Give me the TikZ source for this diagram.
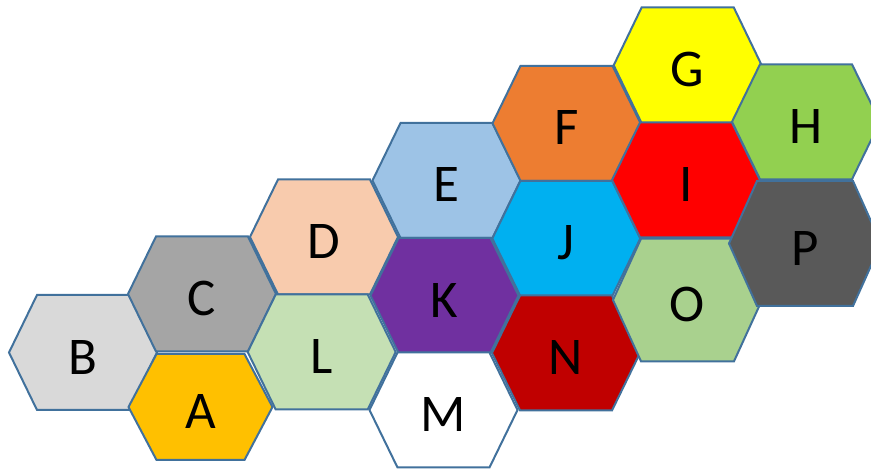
\documentclass[tikz,border=0pt]{standalone}
\usepackage{fontspec}
\setmainfont{Carlito}
\definecolor{hexborder}{HTML}{41719C}
\definecolor{cB}{HTML}{D9D9D9}
\definecolor{cC}{HTML}{A5A5A5}
\definecolor{cA}{HTML}{FFC000}
\definecolor{cD}{HTML}{F8CBAD}
\definecolor{cL}{HTML}{C5E0B4}
\definecolor{cE}{HTML}{9DC3E6}
\definecolor{cK}{HTML}{7030A0}
\definecolor{cM}{HTML}{FFFFFF}
\definecolor{cF}{HTML}{ED7D31}
\definecolor{cJ}{HTML}{00B0F0}
\definecolor{cN}{HTML}{C00000}
\definecolor{cG}{HTML}{FFFF00}
\definecolor{cI}{HTML}{FF0000}
\definecolor{cO}{HTML}{A9D18E}
\definecolor{cH}{HTML}{92D050}
\definecolor{cP}{HTML}{595959}
\tikzset{
  hexstyle/.style={draw=hexborder, line width=2pt, line join=miter},
  hexlabel/.style={inner sep=0pt, font=\fontsize{53}{53}\selectfont, text=black},
}
% name, x, y, half-width, half-height, colour
\newcommand{\hexcell}[6]{%
  \filldraw[hexstyle, fill=#6] (#2-#4,#3) -- ++(28,-#5) -- ++(2*#4-56,0) -- ++(28,#5) -- ++(-28,#5) -- ++(56-2*#4,0) -- cycle;
  \node[hexlabel] (#1) at (#2,#3+4.5) {#1};
}
\begin{document}
\begin{tikzpicture}[x=1pt,y=-1pt]
\path[use as bounding box] (0,0) rectangle (871,470);
\clip (0,0) rectangle (871,470);
\hexcell{B}{83}{352.5}{74}{57.5}{cB}
\hexcell{C}{202}{294}{74}{57.5}{cC}
\hexcell{A}{200.5}{407}{72}{53}{cA}
\hexcell{D}{324}{237}{74}{57.5}{cD}
\hexcell{L}{321.7}{352}{74}{57.5}{cL}
\hexcell{E}{446.5}{180.5}{74}{57.5}{cE}
\hexcell{K}{444.5}{295.5}{74}{57.5}{cK}
\hexcell{M}{443.5}{410}{74}{57.5}{cM}
\hexcell{F}{566.5}{123.3}{74}{57.5}{cF}
\hexcell{J}{566.3}{238.5}{74}{57.5}{cJ}
\hexcell{N}{566}{353}{74}{57.5}{cN}
\hexcell{G}{687.7}{65.3}{74}{58}{cG}
\hexcell{I}{686}{180}{74}{57.5}{cI}
\hexcell{O}{687.5}{300}{74.5}{61.3}{cO}
\hexcell{H}{806}{121.8}{74}{57.5}{cH}
\hexcell{P}{805}{243.5}{76}{62.5}{cP}
\end{tikzpicture}
\end{document}
